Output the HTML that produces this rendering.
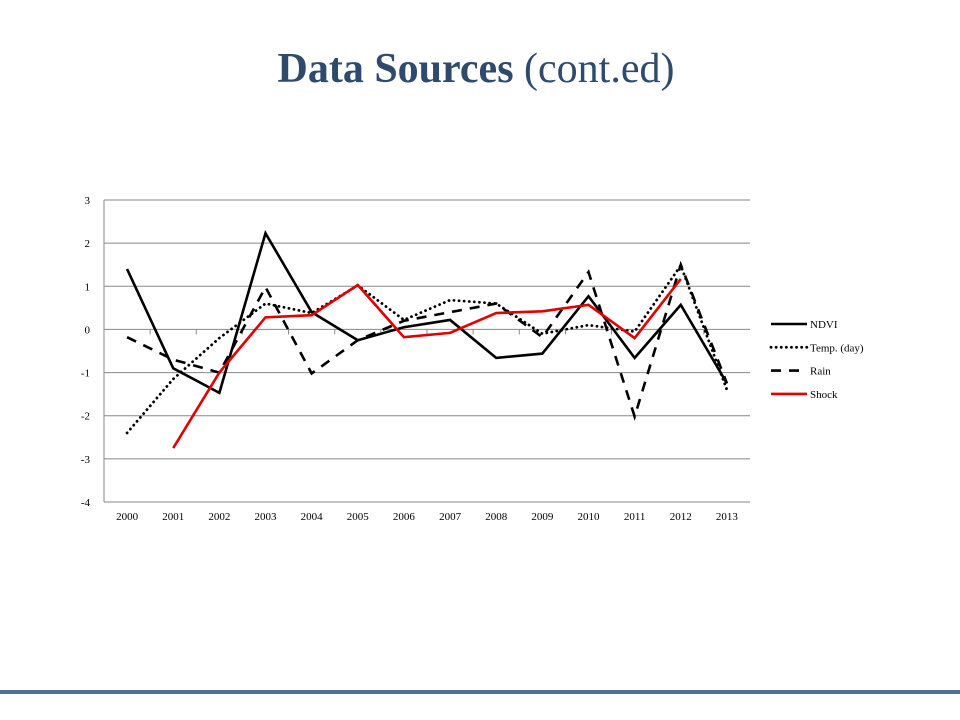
<!DOCTYPE html>
<html><head><meta charset="utf-8"><style>
body{margin:0;width:960px;height:720px;background:#fff;overflow:hidden;position:relative}
#title{position:absolute;left:0;width:952px;top:45px;text-align:center;font-family:"Liberation Serif",serif;font-size:42px;color:#2e4a6c}
#bar{position:absolute;left:0;top:690px;width:960px;height:4px;background:#50709a}
</style></head><body>
<div id="title"><b>Data Sources</b> (cont.ed)</div>
<svg id="chart" width="960" height="720" style="position:absolute;left:0;top:0" font-family="Liberation Serif, serif" font-size="11"></svg>
<div id="bar"></div>
<script>
const years=["2000","2001","2002","2003","2004","2005","2006","2007","2008","2009","2010","2011","2012","2013"];
const yTicks=[3,2,1,0,-1,-2,-3,-4];
const ndvi=[1.4,-0.9,-1.47,2.23,0.4,-0.25,0.05,0.22,-0.66,-0.56,0.77,-0.66,0.57,-1.25];
const temp=[-2.4,-1.15,-0.2,0.6,0.38,1.02,0.22,0.68,0.6,-0.1,0.1,-0.05,1.48,-1.4];
const rain=[-0.18,-0.7,-1.0,0.98,-1.02,-0.25,0.2,0.4,0.6,-0.18,1.33,-2.02,1.5,-1.25];
const shock=[null,-2.75,-1.0,0.28,0.33,1.03,-0.18,-0.08,0.38,0.42,0.57,-0.2,1.17,null];
const names=["NDVI","Temp. (day)","Rain","Shock"];
const NS="http://www.w3.org/2000/svg";
const svg=document.getElementById('chart');
const L=104,R=750,T=200,B=502,ymax=3,ymin=-4;
const step=(R-L)/years.length;
const xs=i=>L+step*(i+0.5);
const ys=v=>T+(ymax-v)/(ymax-ymin)*(B-T);
function mk(t,a){const e=document.createElementNS(NS,t);for(const k in a)e.setAttribute(k,a[k]);svg.appendChild(e);return e;}
yTicks.forEach(v=>{
 const g=mk('line',{x1:L,x2:R,y1:ys(v),y2:ys(v),stroke:'#888','stroke-width':1});
 
 
 const t=mk('text',{x:L-14,y:ys(v)+4,'text-anchor':'end'});t.textContent=v;
 
 
});
const ax=mk('line',{x1:L,x2:L,y1:T,y2:B,stroke:'#888'});


years.forEach((y,i)=>{
 const tk=mk('line',{x1:L+step*i,x2:L+step*i,y1:ys(0),y2:ys(0)+5,stroke:'#888'});
 
 
 const t=mk('text',{x:xs(i),y:B+18,'text-anchor':'middle'});t.textContent=y;
 
 
});
const styles=[{s:'#000',d:''},{s:'#000',d:'0.1 5',c:'round'},{s:'#000',d:'10 8'},{s:'#e00000',d:''}];
[ndvi,temp,rain,shock].forEach((arr,k)=>{
 let d='';let first=true;
 arr.forEach((v,i)=>{if(v==null)return;d+=(first?'M':'L')+xs(i)+','+ys(v);first=false;});
 const p=mk('path',{d:d,fill:'none',stroke:styles[k].s,'stroke-width':k==1?2.8:2.6,'stroke-dasharray':styles[k].d,'stroke-linecap':styles[k].c||'butt','stroke-linejoin':'miter'});
 
 
 const ly=324+k*23.3;
 const ll=mk('line',{x1:771,x2:807,y1:ly,y2:ly,stroke:styles[k].s,'stroke-width':k==1?2.8:2.6,'stroke-dasharray':styles[k].d,'stroke-linecap':styles[k].c||'butt'});
 
 
 const lt=mk('text',{x:810,y:ly+4});lt.textContent=names[k];
 
 
});
</script>
</body></html>
